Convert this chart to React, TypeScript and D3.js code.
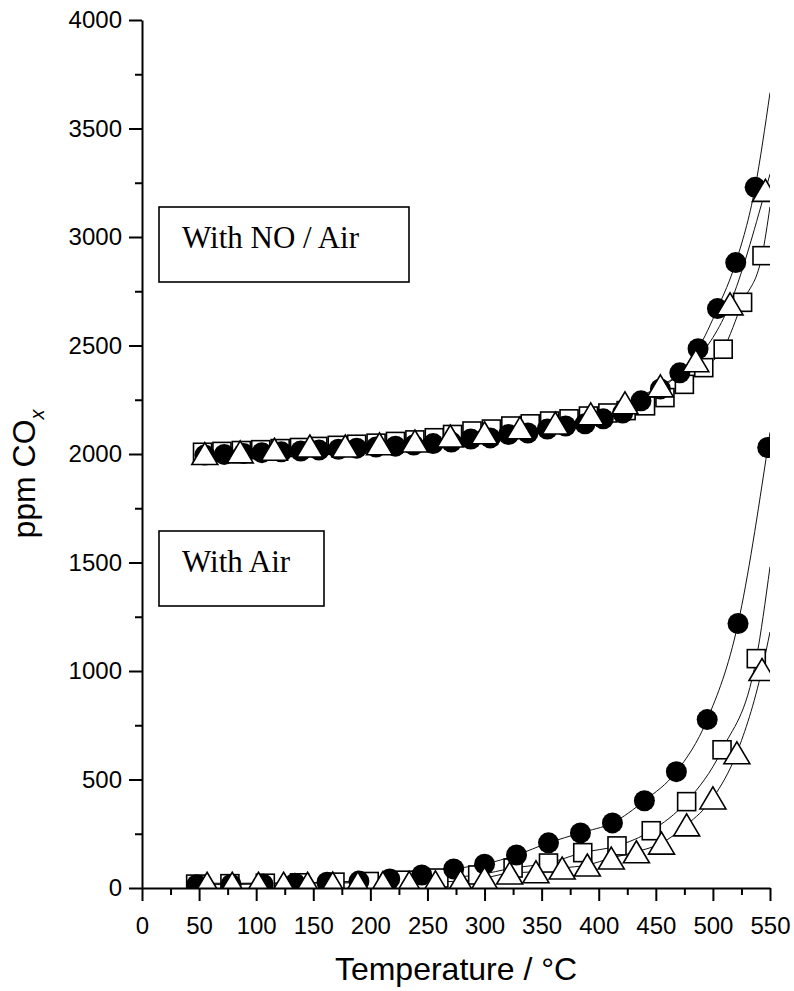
import { useEffect, useRef } from 'react';
import * as d3 from 'd3';

type Pt = [number, number];

// With NO / Air  (temperature °C, ppm COx)
const noAirCircles: Pt[] = [
  [55, 1995], [72, 1998], [89, 2002], [105, 2006], [122, 2010], [139, 2014], [155, 2018], [172, 2022],
  [188, 2027], [205, 2032], [222, 2036], [238, 2041], [255, 2048], [271, 2055], [288, 2069], [305, 2074],
  [321, 2090], [338, 2097], [355, 2115], [371, 2129], [388, 2139], [404, 2162], [421, 2189], [437, 2245],
  [454, 2300], [471, 2374], [487, 2485], [504, 2670], [520, 2882], [537, 3229],
];
const noAirSquares: Pt[] = [
  [53, 2008], [70, 2012], [87, 2016], [104, 2020], [121, 2025], [138, 2030], [154, 2035], [171, 2040],
  [188, 2045], [205, 2050], [222, 2058], [239, 2065], [256, 2075], [272, 2090], [289, 2106], [306, 2115],
  [323, 2129], [340, 2139], [357, 2152], [374, 2162], [391, 2175], [408, 2189], [424, 2200], [441, 2222],
  [458, 2260], [475, 2321], [492, 2398], [509, 2483], [526, 2699], [543, 2914],
];
const noAirTriangles: Pt[] = [
  [55, 2002], [86, 2010], [116, 2022], [147, 2037], [178, 2037], [208, 2047], [239, 2060], [270, 2083],
  [300, 2098], [331, 2121], [362, 2143], [393, 2185], [423, 2236], [454, 2314], [485, 2430], [515, 2692],
  [546, 3215],
];

// With Air
const airCircles: Pt[] = [
  [48, 15], [78, 16], [106, 18], [134, 22], [162, 27], [190, 32], [217, 42], [245, 60], [273, 88],
  [300, 110], [328, 152], [356, 208], [384, 254], [412, 300], [440, 402], [468, 536], [495, 776],
  [522, 1219], [548, 2030],
];
const airSquares: Pt[] = [
  [47, 18], [77, 20], [108, 22], [138, 24], [169, 27], [199, 30], [230, 36], [260, 46], [294, 60],
  [325, 92], [356, 115], [386, 163], [416, 194], [446, 264], [477, 398], [508, 637], [538, 1057],
];
const airTriangles: Pt[] = [
  [57, 22], [79, 22], [102, 22], [124, 22], [145, 22], [167, 23], [189, 24], [211, 25], [234, 26],
  [257, 28], [279, 32], [300, 46], [322, 69], [345, 75], [368, 92], [390, 106], [411, 138], [433, 167],
  [455, 207], [477, 291], [500, 415], [521, 623], [543, 1007],
];

// where each trace leaves the plot at 550 °C
const lineTails: number[] = [3665, 3140, 3290, 2100, 1480, 1180];

const xMajorTicks = d3.range(0, 551, 50);
const xMinorTicks = d3.range(25, 550, 50);
const yMajorTicks = d3.range(0, 4001, 500);
const yMinorTicks = d3.range(250, 4000, 500);

const W = 794;
const H = 991;

export default function App() {
  const svgRef = useRef<SVGSVGElement>(null);

  useEffect(() => {
    if (!svgRef.current) return;
    const svg = d3.select(svgRef.current);
    svg.selectAll('*').remove();

    const margin = { top: 20, right: 24, bottom: 103, left: 142 };
    const x = d3.scaleLinear().domain([0, 550]).range([margin.left, W - margin.right]);
    const y = d3.scaleLinear().domain([0, 4000]).range([H - margin.bottom, margin.top]);

    svg.append('defs').append('clipPath').attr('id', 'plotClip')
      .append('rect')
      .attr('x', x(0)).attr('y', y(4000))
      .attr('width', x(550) - x(0)).attr('height', y(0) - y(4000));

    const series = [
      { pts: noAirCircles, shape: 'circle', tail: lineTails[0] },
      { pts: noAirSquares, shape: 'square', tail: lineTails[1] },
      { pts: noAirTriangles, shape: 'triangle', tail: lineTails[2] },
      { pts: airCircles, shape: 'circle', tail: lineTails[3] },
      { pts: airSquares, shape: 'square', tail: lineTails[4] },
      { pts: airTriangles, shape: 'triangle', tail: lineTails[5] },
    ];

    const plot = svg.append('g').attr('clip-path', 'url(#plotClip)');

    const line = d3.line<Pt>()
      .x(d => x(d[0]))
      .y(d => y(d[1]))
      .curve(d3.curveMonotoneX);

    // traces
    series.forEach(s => {
      plot.append('path')
        .datum([...s.pts, [550, s.tail] as Pt])
        .attr('fill', 'none')
        .attr('stroke', '#111')
        .attr('stroke-width', 1)
        .attr('d', line);
    });

    // markers: squares, then circles, then triangles
    const drawOrder = ['square', 'circle', 'triangle'];
    const groups = [series.slice(0, 3), series.slice(3)];
    groups.forEach(grp => {
      drawOrder.forEach(shape => {
        grp.filter(s => s.shape === shape).forEach(s => {
          if (shape === 'circle') {
            plot.append('g').selectAll('circle').data(s.pts).join('circle')
              .attr('cx', d => x(d[0])).attr('cy', d => y(d[1]))
              .attr('r', 10.5)
              .attr('fill', '#000');
          } else if (shape === 'square') {
            plot.append('g').selectAll('rect').data(s.pts).join('rect')
              .attr('x', d => x(d[0]) - 9).attr('y', d => y(d[1]) - 9)
              .attr('width', 18).attr('height', 18)
              .attr('fill', '#fff').attr('stroke', '#000').attr('stroke-width', 1.6);
          } else {
            plot.append('g').selectAll('path').data(s.pts).join('path')
              .attr('transform', d => `translate(${x(d[0])},${y(d[1])})`)
              .attr('d', 'M0,-11L13,11L-13,11Z')
              .attr('fill', '#fff').attr('stroke', '#000').attr('stroke-width', 1.6)
              .attr('stroke-linejoin', 'miter');
          }
        });
      });
    });

    const font = '"Liberation Sans", Arial, sans-serif';

    // x axis
    svg.append('g')
      .attr('transform', `translate(0,${y(0)})`)
      .call(d3.axisBottom(x).tickValues(xMinorTicks).tickSize(7).tickSizeOuter(0).tickFormat(() => ''))
      .call(g => g.select('.domain').remove());
    svg.append('g')
      .attr('transform', `translate(0,${y(0)})`)
      .call(d3.axisBottom(x).tickValues(xMajorTicks).tickSize(13).tickSizeOuter(0).tickPadding(16).tickFormat(d3.format('d')))
      .attr('font-size', 24)
      .attr('font-family', font)
      .call(g => g.selectAll('line, path').attr('stroke', '#000').attr('stroke-width', 2))
      .call(g => g.selectAll('text').attr('fill', '#000'));

    // y axis
    svg.append('g')
      .attr('transform', `translate(${x(0)},0)`)
      .call(d3.axisLeft(y).tickValues(yMinorTicks).tickSize(7).tickSizeOuter(0).tickFormat(() => ''))
      .call(g => g.select('.domain').remove());
    svg.append('g')
      .attr('transform', `translate(${x(0)},0)`)
      .call(d3.axisLeft(y).tickValues(yMajorTicks).tickSize(13).tickSizeOuter(0).tickPadding(7).tickFormat(d3.format('d')))
      .attr('font-size', 24)
      .attr('font-family', font)
      .call(g => g.selectAll('line, path').attr('stroke', '#000').attr('stroke-width', 2))
      .call(g => g.selectAll('text').attr('fill', '#000'));

    svg.selectAll('.tick line').attr('stroke', '#000').attr('stroke-width', 2);

    // axis titles
    svg.append('text')
      .attr('x', (x(0) + x(550)) / 2)
      .attr('y', 980)
      .attr('text-anchor', 'middle')
      .attr('font-family', font)
      .attr('font-size', 32)
      .text('Temperature / °C');

    const yTitle = svg.append('text')
      .attr('transform', `translate(35,${(y(0) + y(4000)) / 2 + 20}) rotate(-90)`)
      .attr('text-anchor', 'middle')
      .attr('font-family', font)
      .attr('font-size', 32);
    yTitle.append('tspan').text('ppm CO');
    yTitle.append('tspan')
      .attr('font-size', 20)
      .attr('font-style', 'italic')
      .attr('dy', 9)
      .text('x');

    // annotation boxes
    const notes = [
      { label: 'With NO / Air', box: [159, 207, 250, 75], base: 248 },
      { label: 'With Air', box: [159, 531, 165, 75], base: 572 },
    ];
    notes.forEach(n => {
      svg.append('rect')
        .attr('x', n.box[0]).attr('y', n.box[1])
        .attr('width', n.box[2]).attr('height', n.box[3])
        .attr('fill', '#fff').attr('stroke', '#000').attr('stroke-width', 1.6);
      svg.append('text')
        .attr('x', n.box[0] + 23).attr('y', n.base)
        .attr('font-family', '"Liberation Serif", "Times New Roman", serif')
        .attr('font-size', 31)
        .text(n.label);
    });
  }, []);

  return (
    <div>
      <style>{'body{margin:0;background:#fff}'}</style>
      <svg ref={svgRef} width={W} height={H} style={{ display: 'block' }} />
    </div>
  );
}
